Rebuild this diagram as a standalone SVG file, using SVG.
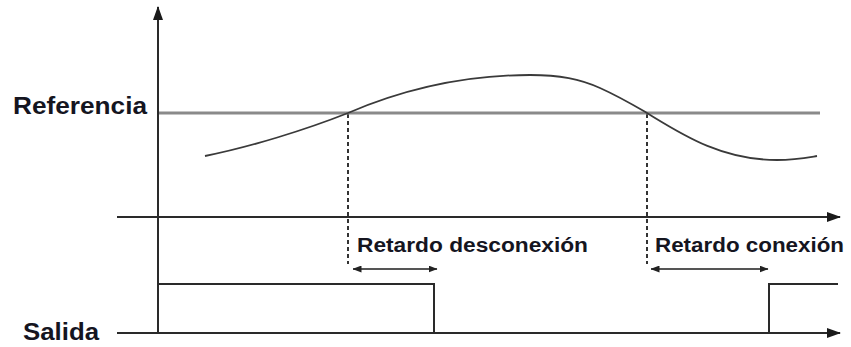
<svg xmlns="http://www.w3.org/2000/svg" width="851" height="347" viewBox="0 0 851 347">
<defs>
<style>
.axis{stroke:#2a2a2a;stroke-width:2;fill:none}
.ref{stroke:#8a8a8a;stroke-width:3;fill:none}
.curve{stroke:#3a3a3a;stroke-width:1.8;fill:none}
.dash{stroke:#333;stroke-width:2;stroke-dasharray:4 3;fill:none}
.dim{stroke:#555;stroke-width:2;fill:none}
.sig{stroke:#2a2a2a;stroke-width:2;fill:none}
.lbl{font-family:"Liberation Sans",Arial,sans-serif;font-weight:bold;fill:#15151f}
</style>
<marker id="ah" viewBox="0 0 14 10" refX="13" refY="5" markerWidth="14" markerHeight="10" markerUnits="userSpaceOnUse" orient="auto">
<path d="M0,0 L14,5 L0,10 Z" fill="#1a1a1a"/>
</marker>
<marker id="dh" viewBox="0 0 9 7" refX="8.5" refY="3.5" markerWidth="9" markerHeight="7" markerUnits="userSpaceOnUse" orient="auto-start-reverse">
<path d="M0,0 L9,3.5 L0,7 Z" fill="#222"/>
</marker>
</defs>
<rect width="851" height="347" fill="#fff"/>
<g id="connectors">
<line id="y-axis" class="axis" x1="158" y1="333" x2="158" y2="7" marker-end="url(#ah)"/>
<line id="time-axis" class="axis" x1="117" y1="217" x2="840" y2="217" marker-end="url(#ah)"/>
<line id="output-axis" class="axis" x1="117" y1="333" x2="840" y2="333" marker-end="url(#ah)"/>
<line id="dash-off" class="dash" x1="348" y1="114" x2="348" y2="264"/>
<line id="dash-on" class="dash" x1="647" y1="114" x2="647" y2="264"/>
<line id="delay-off" class="dim" x1="353" y1="269" x2="437" y2="269" marker-start="url(#dh)" marker-end="url(#dh)"/>
<line id="delay-on" class="dim" x1="651" y1="269" x2="768" y2="269" marker-start="url(#dh)" marker-end="url(#dh)"/>
</g>
<g id="reference-line">
<line class="ref" x1="159" y1="113" x2="820" y2="113"/>
</g>
<g id="input-curve">
<path class="curve" d="M205,156 C250,147 305,130 348,113 C390,95 450,75 530,75 C560,75 580,79 600,88 C620,97 635,106 647,113 C680,133 720,160 777,160 C795,160 805,158 817,156"/>
</g>
<g id="output-signal">
<path class="sig" d="M158,284 L434,284 L434,333"/>
<path class="sig" d="M769,333 L769,284 L838,284"/>
</g>
<g id="label-referencia"><text class="lbl" x="13" y="114" font-size="24" textLength="134" lengthAdjust="spacingAndGlyphs">Referencia</text></g>
<g id="label-salida"><text class="lbl" x="23" y="340" font-size="24" textLength="76" lengthAdjust="spacingAndGlyphs">Salida</text></g>
<g id="label-desconexion"><text class="lbl" x="357" y="252" font-size="19.5" textLength="231" lengthAdjust="spacingAndGlyphs">Retardo desconexión</text></g>
<g id="label-conexion"><text class="lbl" x="655" y="252" font-size="19.5" textLength="189" lengthAdjust="spacingAndGlyphs">Retardo conexión</text></g>
</svg>
